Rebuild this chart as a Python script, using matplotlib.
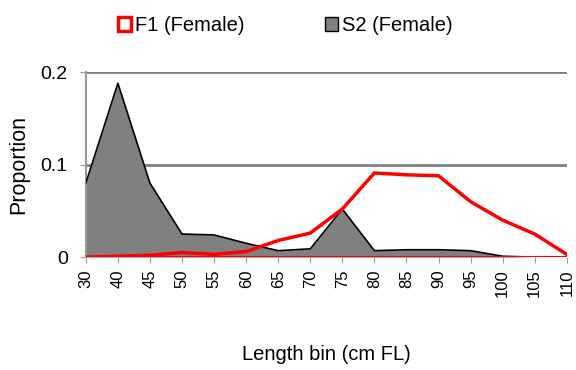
import numpy as np
import matplotlib.pyplot as plt
from matplotlib.patches import Patch

# Length bins (cm FL)
bins = ['30', '40', '45', '50', '55', '60', '65', '70', '75', '80',
        '85', '90', '95', '100', '105', '110']
f1_female = [0.0, 0.001, 0.002, 0.005, 0.003, 0.006, 0.018, 0.026, 0.052,
             0.091, 0.089, 0.088, 0.060, 0.040, 0.025, 0.003]
s2_female = [0.080, 0.188, 0.080, 0.025, 0.024, 0.015, 0.007, 0.009, 0.052,
             0.007, 0.008, 0.008, 0.007, 0.001, 0.0, 0.0]

plt.rcParams['font.family'] = ['Liberation Sans', 'DejaVu Sans']

fig = plt.figure(figsize=(5.76, 3.70), dpi=100)
ax = fig.add_axes([0.149, 0.305, 0.835, 0.50])

x = np.arange(len(bins))

# grey area (S2), then F1 outline on top
ax.fill_between(x, 0, s2_female, color='#808080', lw=0, zorder=2)
ax.plot(x, s2_female, color='black', lw=1.2, zorder=3)
ax.plot(x, f1_female, color='#ff0000', lw=2.5, zorder=4, solid_joinstyle='round')
ax.plot([x[0], x[-1]], [0, 0], color='#ff0000', lw=1.5, zorder=4)

ax.set_xlim(x[0], x[-1])
ax.set_ylim(0, 0.2)
ax.set_yticks([0, 0.1, 0.2])
ax.set_yticklabels(['0', '0.1', '0.2'])
ax.set_xticks(x)
ax.set_xticklabels(bins, rotation=90)

for y in [0.1, 0.2]:
    ax.axhline(y, color='#808080', lw=2, zorder=1)

for s in ['top', 'right', 'bottom']:
    ax.spines[s].set_visible(False)
ax.spines['left'].set_color('#999999')
ax.spines['left'].set_linewidth(1.5)
ax.tick_params(axis='both', colors='#999999', labelcolor='black', length=4)
ax.tick_params(axis='y', labelsize=14, pad=9)
ax.tick_params(axis='x', labelsize=12, pad=5)

ax.set_ylabel('Proportion', fontsize=15.5, labelpad=8)
ax.set_xlabel('Length bin (cm FL)', fontsize=14.5, labelpad=34)

handles = [Patch(facecolor='white', edgecolor='#ff0000', lw=2.5, label='F1 (Female)'),
           Patch(facecolor='#808080', edgecolor='black', lw=1, label='S2 (Female)')]
fig.legend(handles=handles, loc='upper center', bbox_to_anchor=(0.495, 1.005), ncol=2,
           frameon=False, fontsize=14.5, handlelength=0.65, handleheight=0.65,
           handletextpad=0.2, columnspacing=4.0)

fig.savefig('out.png', dpi=100)
